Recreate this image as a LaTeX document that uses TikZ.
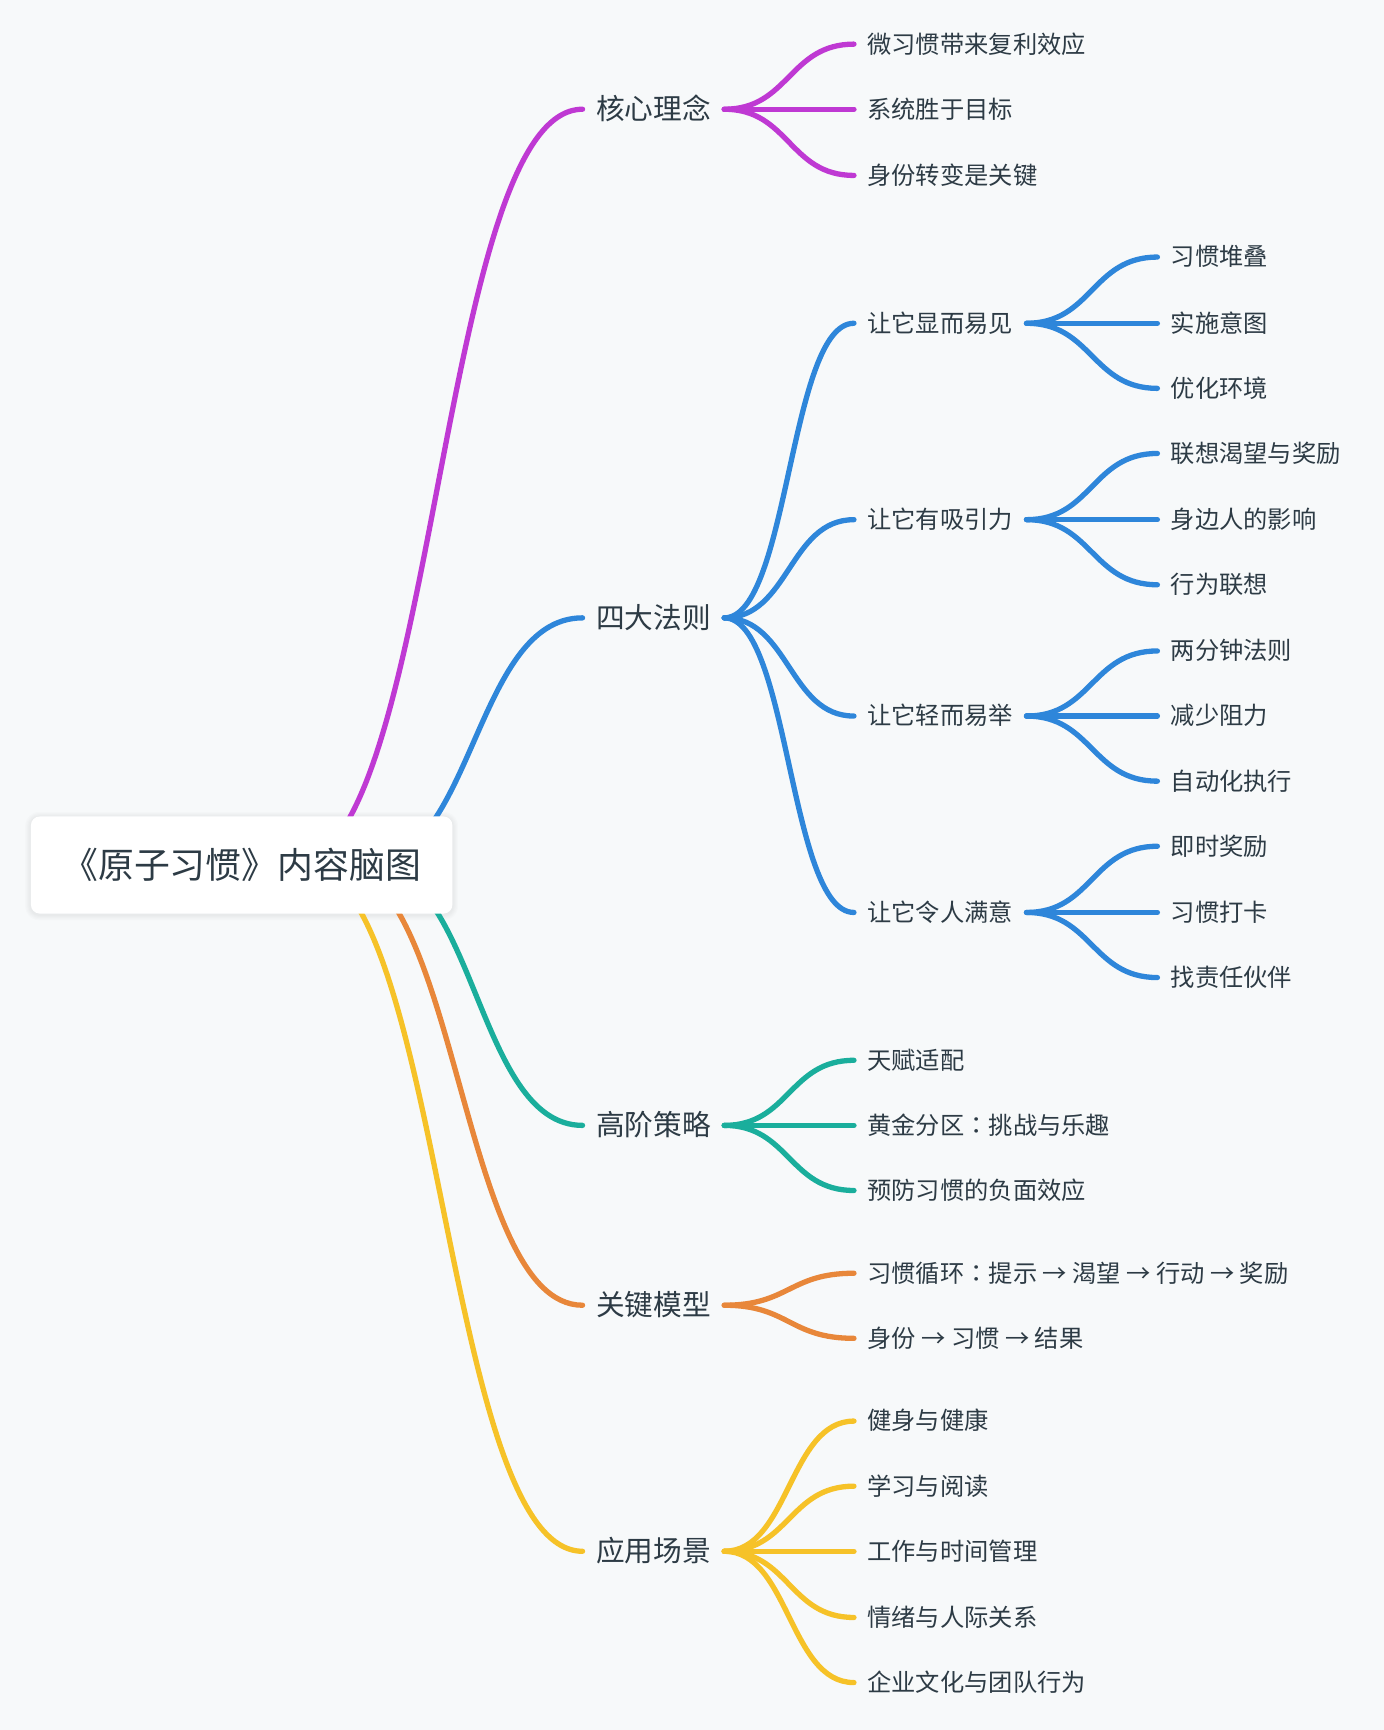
\documentclass[tikz,border=0pt]{standalone}
\usepackage{fontspec}
\setmainfont{Noto Sans CJK SC}
\newfontfamily\tcfont{Noto Sans CJK TC}
\newcommand\zcolon{{\tcfont ：}}
\usetikzlibrary{calc}
\definecolor{bgc}{HTML}{F7F9FA}
\definecolor{txt}{HTML}{2D3B45}
\definecolor{cmag}{HTML}{BF39D3}
\definecolor{cblue}{HTML}{2E86DA}
\definecolor{cteal}{HTML}{1AAE9C}
\definecolor{corange}{HTML}{E8873A}
\definecolor{cyellow}{HTML}{F6C228}
\pgfdeclarelayer{bglayer}
\pgfsetlayers{bglayer,main}
\newcommand\mmlink[3]{\draw[link,#1] (#2) .. controls ($(#2)!0.5!(#3|-#2)$) and ($(#3)!0.5!(#2|-#3)$) .. (#3);}
\tikzset{
  lvl/.style={anchor=west, inner xsep=12pt, inner ysep=0pt, text=txt,
    font=\fontsize{22}{26}\selectfont, text height=17.6pt, text depth=1.5pt},
  lvlone/.style={lvl, font=\fontsize{26}{30}\selectfont, text height=20.8pt, text depth=1.8pt},
  rootbox/.style={fill=white, rounded corners=8pt, minimum width=382pt, minimum height=88pt,
    text=txt, font=\fontsize{32.5}{38}\selectfont, inner sep=0pt},
  link/.style={line width=4.8pt, line cap=round},
}
\begin{document}
\begin{tikzpicture}[x=1pt,y=-1pt]
\begin{pgfonlayer}{bglayer}
\fill[bgc] (0,0) rectangle (1254.4,1568);
\end{pgfonlayer}
\useasboundingbox (0,0) rectangle (1254.4,1568);

% level 1
\node[lvlone] (k1) at (528,99) {核心理念};
\node[lvlone] (k2) at (528,560) {四大法则};
\node[lvlone] (k3) at (528,1020) {高阶策略};
\node[lvlone] (k4) at (528,1183) {关键模型};
\node[lvlone] (k5) at (528,1406) {应用场景};

% level 2
\node[lvl] (a1) at (774,40) {微习惯带来复利效应};
\node[lvl] (a2) at (774,99) {系统胜于目标};
\node[lvl] (a3) at (774,159) {身份转变是关键};
\node[lvl] (b1) at (774,293) {让它显而易见};
\node[lvl] (b2) at (774,471) {让它有吸引力};
\node[lvl] (b3) at (774,649) {让它轻而易举};
\node[lvl] (b4) at (774,827) {让它令人满意};
\node[lvl] (c1) at (774,961) {天赋适配};
\node[lvl] (c2) at (774,1020) {黄金分区\zcolon 挑战与乐趣};
\node[lvl] (c3) at (774,1079) {预防习惯的负面效应};
\node[lvl] (d1) at (774,1154) {习惯循环\zcolon 提示 → 渴望 → 行动 → 奖励};
\node[lvl] (d2) at (774,1213) {身份 → 习惯 → 结果};
\node[lvl] (e1) at (774,1288) {健身与健康};
\node[lvl] (e2) at (774,1347) {学习与阅读};
\node[lvl] (e3) at (774,1406) {工作与时间管理};
\node[lvl] (e4) at (774,1466) {情绪与人际关系};
\node[lvl] (e5) at (774,1525) {企业文化与团队行为};

% level 3
\node[lvl] (b11) at (1049,233) {习惯堆叠};
\node[lvl] (b12) at (1049,293) {实施意图};
\node[lvl] (b13) at (1049,352) {优化环境};
\node[lvl] (b21) at (1049,411) {联想渴望与奖励};
\node[lvl] (b22) at (1049,471) {身边人的影响};
\node[lvl] (b23) at (1049,530) {行为联想};
\node[lvl] (b31) at (1049,590) {两分钟法则};
\node[lvl] (b32) at (1049,649) {减少阻力};
\node[lvl] (b33) at (1049,708) {自动化执行};
\node[lvl] (b41) at (1049,767) {即时奖励};
\node[lvl] (b42) at (1049,827) {习惯打卡};
\node[lvl] (b43) at (1049,886) {找责任伙伴};

% hidden starts of the main branches (under the root box)
\coordinate (s1) at (265,784);
\coordinate (s2) at (331,784);
\coordinate (s3) at (335,784);
\coordinate (s4) at (305,784);
\coordinate (s5) at (275,784);

% root -> level 1
\mmlink{cmag}{s1}{k1.west}
\mmlink{cblue}{s2}{k2.west}
\mmlink{cteal}{s3}{k3.west}
\mmlink{corange}{s4}{k4.west}
\mmlink{cyellow}{s5}{k5.west}

% level 1 -> level 2
\foreach \c in {a1,a2,a3} {\mmlink{cmag}{k1.east}{\c.west}}
\foreach \c in {b1,b2,b3,b4} {\mmlink{cblue}{k2.east}{\c.west}}
\foreach \c in {c1,c2,c3} {\mmlink{cteal}{k3.east}{\c.west}}
\foreach \c in {d1,d2} {\mmlink{corange}{k4.east}{\c.west}}
\foreach \c in {e1,e2,e3,e4,e5} {\mmlink{cyellow}{k5.east}{\c.west}}

% level 2 -> level 3
\foreach \c in {b11,b12,b13} {\mmlink{cblue}{b1.east}{\c.west}}
\foreach \c in {b21,b22,b23} {\mmlink{cblue}{b2.east}{\c.west}}
\foreach \c in {b31,b32,b33} {\mmlink{cblue}{b3.east}{\c.west}}
\foreach \c in {b41,b42,b43} {\mmlink{cblue}{b4.east}{\c.west}}

% root
\node[rootbox] (root) at (219,784) {《原子习惯》内容脑图};
\begin{pgfonlayer}{bglayer}
\foreach \i in {1,...,5} {
  \fill[black, opacity=0.012, rounded corners=8pt+\i pt]
    ($(root.north west)+(-\i,-\i+1)$) rectangle ($(root.south east)+(\i,\i+1)$);
}
\end{pgfonlayer}
\end{tikzpicture}
\end{document}
